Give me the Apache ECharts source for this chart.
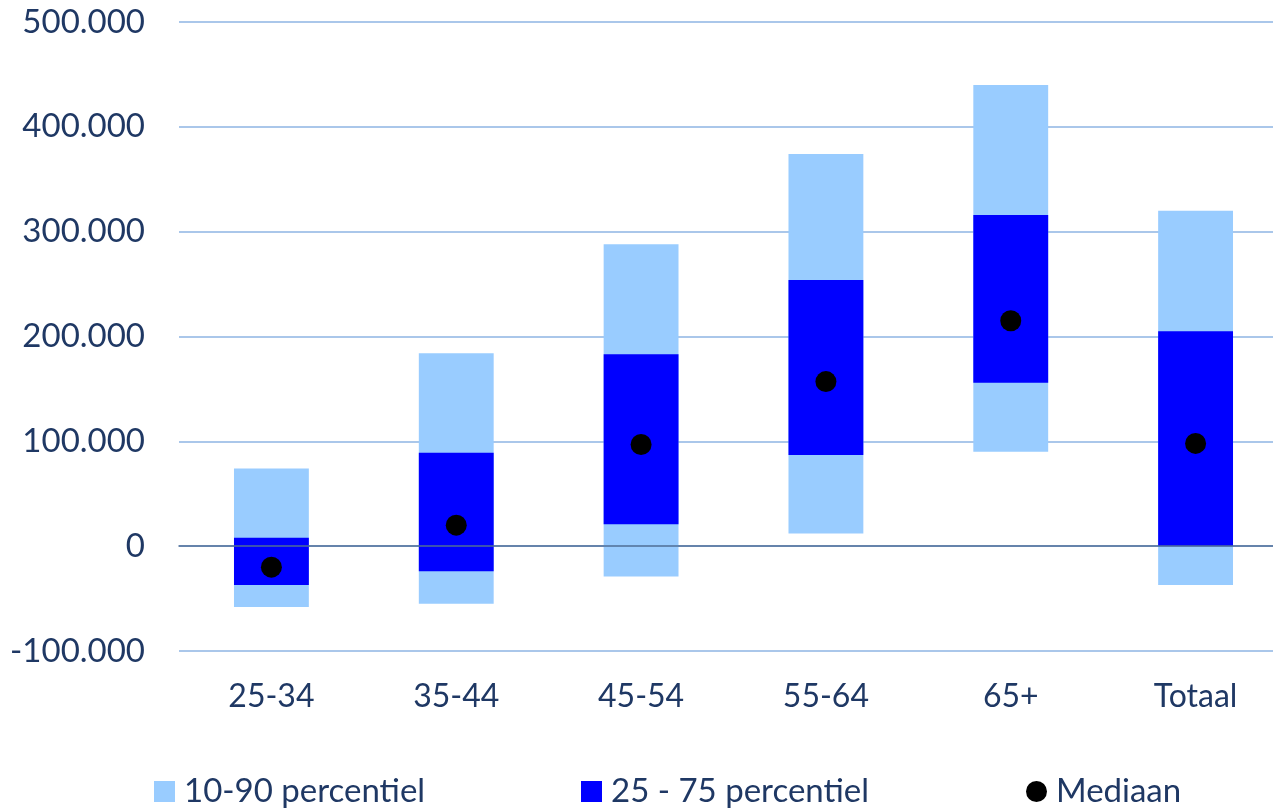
<!DOCTYPE html>
<html>
<head>
<meta charset="utf-8">
<script src="https://cdn.jsdelivr.net/npm/echarts@6/dist/echarts.min.js"></script>
<style>
  html, body { margin: 0; padding: 0; background: #fff; }
  #chart { width: 1273px; height: 809px; }
</style>
</head>
<body>
<div id="chart"></div>
<script>
// leeftijdsklassen
var categories = ['25-34', '35-44', '45-54', '55-64', '65+', 'Totaal'];
var p10 = [-58000, -55000, -29000, 12000, 90000, -37000];
var p25 = [-37000, -24000, 21000, 87000, 156000, 0];
var p75 = [8000, 89000, 183000, 254000, 316000, 205000];
var p90 = [74000, 184000, 288000, 374000, 440000, 320000];
var median = [-20000, 20000, 97000, 157000, 215000, 98000];

var textColor = '#1f3864';
var fontFamily = 'Lato, "Open Sans", sans-serif';

function fmt(v) {
    var s = String(Math.abs(v)).replace(/\B(?=(\d{3})+(?!\d))/g, '.');
    return (v < 0 ? '-' : '') + s;
}

function boxData(lo, hi) {
    return categories.map(function (c, i) { return [i, lo[i], hi[i]]; });
}

function renderBox(params, api) {
    var i = api.value(0);
    var a = api.coord([i, api.value(1)]);
    var b = api.coord([i, api.value(2)]);
    var w = api.size([1, 0])[0] * 0.405;
    return {
        type: 'rect',
        shape: {x: a[0] - w / 2, y: b[1], width: w, height: a[1] - b[1]},
        style: {fill: api.visual('color')}
    };
}

var chart = echarts.init(document.getElementById('chart'));
var legendBase = {
    bottom: -4,
    itemWidth: 21,
    itemHeight: 21,
    textStyle: {color: textColor, fontSize: 33, fontFamily: fontFamily, padding: [0, 0, 0, 4]}
};
var option = {
    animation: false,
    grid: {left: 179, right: -15, top: 22, bottom: 158, outerBoundsMode: 'none'},
    legend: [
        Object.assign({left: 149, data: [{name: '10-90 percentiel', icon: 'rect'}]}, legendBase),
        Object.assign({left: 576, data: [{name: '25 - 75 percentiel', icon: 'rect'}]}, legendBase),
        Object.assign({left: 1021, data: [{name: 'Mediaan', icon: 'circle'}]}, legendBase)
    ],
    xAxis: {
        type: 'category',
        data: categories,
        z: 5,
        axisTick: {show: false},
        axisLine: {onZero: true, lineStyle: {color: '#4f6e96', width: 1.5}},
        axisLabel: {color: textColor, fontSize: 32, fontFamily: fontFamily, margin: 30},
    },
    yAxis: {
        type: 'value',
        min: -100000,
        max: 500000,
        interval: 100000,
        axisLine: {show: false},
        axisTick: {show: false},
        splitLine: {lineStyle: {color: '#8eb4e3', width: 1.5}},
        axisLabel: {color: textColor, fontSize: 33, fontFamily: fontFamily, margin: 34, formatter: fmt}
    },
    series: [
        {
            name: '10-90 percentiel',
            type: 'custom',
            renderItem: renderBox,
            itemStyle: {color: '#99ccff'},
            encode: {x: 0, y: [1, 2]},
            data: boxData(p10, p90)
        },
        {
            name: '25 - 75 percentiel',
            type: 'custom',
            renderItem: renderBox,
            itemStyle: {color: '#0000ff'},
            encode: {x: 0, y: [1, 2]},
            data: boxData(p25, p75)
        },
        {
            name: 'Mediaan',
            type: 'scatter',
            symbol: 'circle',
            symbolSize: 21,
            itemStyle: {color: '#000000', opacity: 1},
            z: 4,
            data: median
        }
    ]
};
chart.setOption(option);
window.onresize = chart.resize;
</script>
</body>
</html>
